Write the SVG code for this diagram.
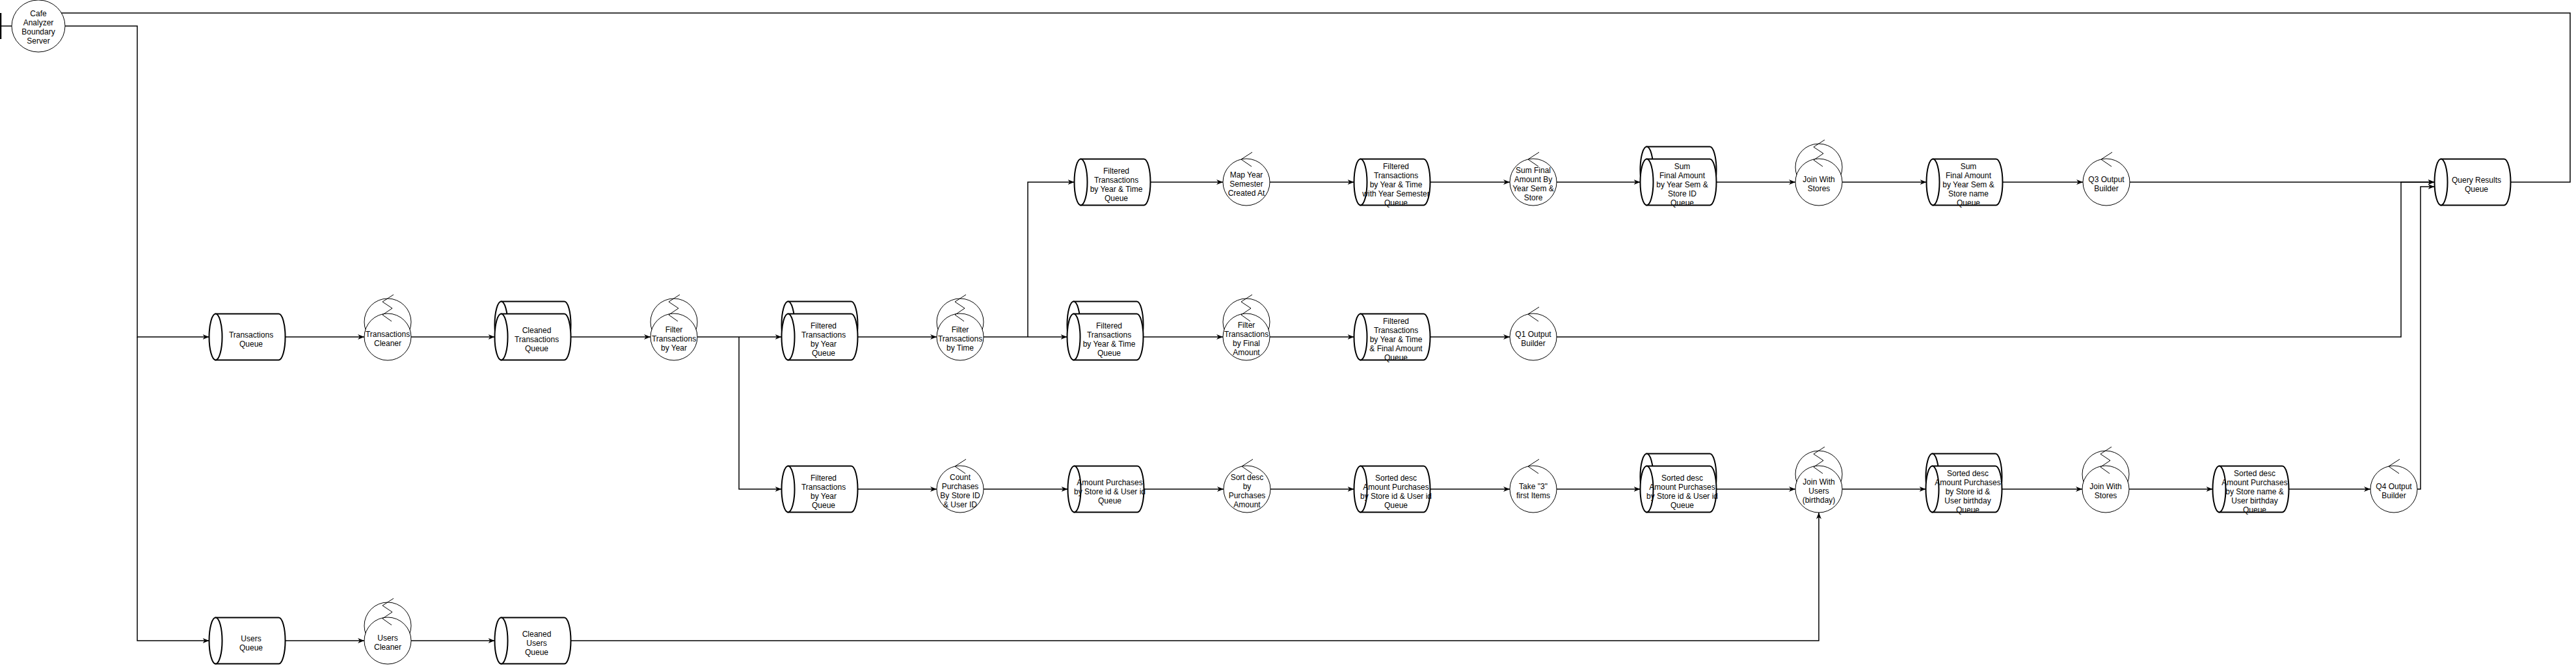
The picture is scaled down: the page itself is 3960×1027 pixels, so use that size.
<svg xmlns="http://www.w3.org/2000/svg" width="3960" height="1027" viewBox="0 0 3960 1027">
<style>
.bg{fill:#fff}
.s{fill:#fff;stroke:#000;stroke-width:2}
.w{fill:#fff;stroke:#000;stroke-width:1}
.z{fill:none;stroke:#000;stroke-width:1}
.c{fill:none;stroke:#000;stroke-width:1.5;marker-end:url(#arr)}
.l{fill:none;stroke:#000;stroke-width:1.5}
text{font-family:"Liberation Sans",Arial,sans-serif;font-size:12px;text-anchor:middle;fill:#000}
</style>
<defs>
<marker id="arr" viewBox="0 0 10 8" markerWidth="10" markerHeight="8" refX="10" refY="4" orient="auto" markerUnits="userSpaceOnUse">
<path d="M0,0 L10,4 L0,8 L3,4 Z" fill="#000"/>
</marker>
<g id="cyl">
<path class="s" d="M-48.5,-35.5 H48.5 A10,35.5 0 0 1 48.5,35.5 H-48.5 Z"/>
<ellipse class="s" cx="-48.5" cy="0" rx="10" ry="35.5"/>
</g>
<g id="cyl2">
<use href="#cyl" y="-19"/>
<use href="#cyl"/>
</g>
<g id="ctl">
<circle class="w" cx="0" cy="0" r="36"/>
<polyline class="z" points="9,-46 -8,-35 8,-24"/>
</g>
<g id="ctl2">
<circle class="w" cx="0" cy="-23" r="36"/>
<circle class="w" cx="0" cy="0" r="36"/>
<polyline class="z" points="9,-65 -8,-54 7,-44 -8,-34 6,-24"/>
</g>
</defs>
<rect class="bg" x="0" y="0" width="3960" height="1027"/>

<g id="connectors">
<path class="l" d="M0,40 H19"/>
<path d="M1,20 V60" stroke="#000" stroke-width="2.5" fill="none"/>
<path class="c" d="M100,40 H211 V518 H321.5"/>
<path class="c" d="M211,518 V985 H321.5"/>
<path class="c" d="M438.5,518 H560"/>
<path class="c" d="M632,518 H760.5"/>
<path class="c" d="M877.5,518 H1000"/>
<path class="c" d="M1072,518 H1201.5"/>
<path class="c" d="M1136,518 V752 H1201.5"/>
<path class="c" d="M1318.5,518 H1440"/>
<path class="c" d="M1512,518 H1640.5"/>
<path class="c" d="M1580,518 V280 H1651.5"/>
<path class="c" d="M1757.5,518 H1880"/>
<path class="c" d="M1952,518 H2081.5"/>
<path class="c" d="M2198.5,518 H2321"/>
<path class="c" d="M2393,518 H3691 V280 H3742.5"/>
<path class="c" d="M1768.5,280 H1880"/>
<path class="c" d="M1952,280 H2081.5"/>
<path class="c" d="M2198.5,280 H2321"/>
<path class="c" d="M2393,280 H2521.5"/>
<path class="c" d="M2638.5,280 H2760"/>
<path class="c" d="M2832,280 H2961.5"/>
<path class="c" d="M3078.5,280 H3202"/>
<path class="c" d="M3274,280 H3742.5"/>
<path class="c" d="M3859.5,280 H3951 V20 H82"/>
<path class="c" d="M1318.5,752 H1440"/>
<path class="c" d="M1512,752 H1641.5"/>
<path class="c" d="M1758.5,752 H1881"/>
<path class="c" d="M1953,752 H2081.5"/>
<path class="c" d="M2198.5,752 H2321"/>
<path class="c" d="M2393,752 H2521.5"/>
<path class="c" d="M2638.5,752 H2760"/>
<path class="c" d="M2832,752 H2960.5"/>
<path class="c" d="M3077.5,752 H3201"/>
<path class="c" d="M3273,752 H3401.5"/>
<path class="c" d="M3518.5,752 H3644"/>
<path class="c" d="M3716,752 H3721 V287 H3742.5"/>
<path class="c" d="M438.5,985 H560"/>
<path class="c" d="M632,985 H760.5"/>
<path class="c" d="M877.5,985 H2796 V788"/>
</g>

<g id="server">
<ellipse class="w" cx="59" cy="40" rx="41" ry="40"/>
<text x="59" y="25">Cafe<tspan x="59" dy="14">Analyzer</tspan><tspan x="59" dy="14">Boundary</tspan><tspan x="59" dy="14">Server</tspan></text>
</g>

<g id="n1"><use href="#cyl" x="380" y="518"/><text x="386" y="519">Transactions<tspan x="386" dy="14">Queue</tspan></text></g>
<g id="n2"><use href="#ctl2" x="596" y="518"/><text x="596" y="518">Transactions<tspan x="596" dy="14">Cleaner</tspan></text></g>
<g id="n3"><use href="#cyl2" x="819" y="518"/><text x="825" y="512">Cleaned<tspan x="825" dy="14">Transactions</tspan><tspan x="825" dy="14">Queue</tspan></text></g>
<g id="n4"><use href="#ctl2" x="1036" y="518"/><text x="1036" y="511">Filter<tspan x="1036" dy="14">Transactions</tspan><tspan x="1036" dy="14">by Year</tspan></text></g>
<g id="n5"><use href="#cyl2" x="1260" y="518"/><text x="1266" y="505">Filtered<tspan x="1266" dy="14">Transactions</tspan><tspan x="1266" dy="14">by Year</tspan><tspan x="1266" dy="14">Queue</tspan></text></g>
<g id="n6"><use href="#ctl2" x="1476" y="518"/><text x="1476" y="511">Filter<tspan x="1476" dy="14">Transactions</tspan><tspan x="1476" dy="14">by Time</tspan></text></g>
<g id="n7"><use href="#cyl2" x="1699" y="518"/><text x="1705" y="505">Filtered<tspan x="1705" dy="14">Transactions</tspan><tspan x="1705" dy="14">by Year &amp; Time</tspan><tspan x="1705" dy="14">Queue</tspan></text></g>
<g id="n8"><use href="#ctl2" x="1916" y="518"/><text x="1916" y="504">Filter<tspan x="1916" dy="14">Transactions</tspan><tspan x="1916" dy="14">by Final</tspan><tspan x="1916" dy="14">Amount</tspan></text></g>
<g id="n9"><use href="#cyl" x="2140" y="518"/><text x="2146" y="498">Filtered<tspan x="2146" dy="14">Transactions</tspan><tspan x="2146" dy="14">by Year &amp; Time</tspan><tspan x="2146" dy="14">&amp; Final Amount</tspan><tspan x="2146" dy="14">Queue</tspan></text></g>
<g id="n10"><use href="#ctl" x="2357" y="518"/><text x="2357" y="518">Q1 Output<tspan x="2357" dy="14">Builder</tspan></text></g>

<g id="n11"><use href="#cyl" x="1710" y="280"/><text x="1716" y="267">Filtered<tspan x="1716" dy="14">Transactions</tspan><tspan x="1716" dy="14">by Year &amp; Time</tspan><tspan x="1716" dy="14">Queue</tspan></text></g>
<g id="n12"><use href="#ctl" x="1916" y="280"/><text x="1916" y="273">Map Year<tspan x="1916" dy="14">Semester</tspan><tspan x="1916" dy="14">Created At</tspan></text></g>
<g id="n13"><use href="#cyl" x="2140" y="280"/><text x="2146" y="260">Filtered<tspan x="2146" dy="14">Transactions</tspan><tspan x="2146" dy="14">by Year &amp; Time</tspan><tspan x="2146" dy="14">with Year Semester</tspan><tspan x="2146" dy="14">Queue</tspan></text></g>
<g id="n14"><use href="#ctl" x="2357" y="280"/><text x="2357" y="266">Sum Final<tspan x="2357" dy="14">Amount By</tspan><tspan x="2357" dy="14">Year Sem &amp;</tspan><tspan x="2357" dy="14">Store</tspan></text></g>
<g id="n15"><use href="#cyl2" x="2580" y="280"/><text x="2586" y="260">Sum<tspan x="2586" dy="14">Final Amount</tspan><tspan x="2586" dy="14">by Year Sem &amp;</tspan><tspan x="2586" dy="14">Store ID</tspan><tspan x="2586" dy="14">Queue</tspan></text></g>
<g id="n16"><use href="#ctl2" x="2796" y="280"/><text x="2796" y="280">Join With<tspan x="2796" dy="14">Stores</tspan></text></g>
<g id="n17"><use href="#cyl" x="3020" y="280"/><text x="3026" y="260">Sum<tspan x="3026" dy="14">Final Amount</tspan><tspan x="3026" dy="14">by Year Sem &amp;</tspan><tspan x="3026" dy="14">Store name</tspan><tspan x="3026" dy="14">Queue</tspan></text></g>
<g id="n18"><use href="#ctl" x="3238" y="280"/><text x="3238" y="280">Q3 Output<tspan x="3238" dy="14">Builder</tspan></text></g>
<g id="n19"><use href="#cyl" x="3801" y="280"/><text x="3807" y="281">Query Results<tspan x="3807" dy="14">Queue</tspan></text></g>

<g id="n20"><use href="#cyl" x="1260" y="752"/><text x="1266" y="739">Filtered<tspan x="1266" dy="14">Transactions</tspan><tspan x="1266" dy="14">by Year</tspan><tspan x="1266" dy="14">Queue</tspan></text></g>
<g id="n21"><use href="#ctl" x="1476" y="752"/><text x="1476" y="738">Count<tspan x="1476" dy="14">Purchases</tspan><tspan x="1476" dy="14">By Store ID</tspan><tspan x="1476" dy="14">&amp; User ID</tspan></text></g>
<g id="n22"><use href="#cyl" x="1700" y="752"/><text x="1706" y="746">Amount Purchases<tspan x="1706" dy="14">by Store id &amp; User id</tspan><tspan x="1706" dy="14">Queue</tspan></text></g>
<g id="n23"><use href="#ctl" x="1917" y="752"/><text x="1917" y="738">Sort desc<tspan x="1917" dy="14">by</tspan><tspan x="1917" dy="14">Purchases</tspan><tspan x="1917" dy="14">Amount</tspan></text></g>
<g id="n24"><use href="#cyl" x="2140" y="752"/><text x="2146" y="739">Sorted desc<tspan x="2146" dy="14">Amount Purchases</tspan><tspan x="2146" dy="14">by Store id &amp; User id</tspan><tspan x="2146" dy="14">Queue</tspan></text></g>
<g id="n25"><use href="#ctl" x="2357" y="752"/><text x="2357" y="752">Take "3"<tspan x="2357" dy="14">first Items</tspan></text></g>
<g id="n26"><use href="#cyl2" x="2580" y="752"/><text x="2586" y="739">Sorted desc<tspan x="2586" dy="14">Amount Purchases</tspan><tspan x="2586" dy="14">by Store id &amp; User id</tspan><tspan x="2586" dy="14">Queue</tspan></text></g>
<g id="n27"><use href="#ctl2" x="2796" y="752"/><text x="2796" y="745">Join With<tspan x="2796" dy="14">Users</tspan><tspan x="2796" dy="14">(birthday)</tspan></text></g>
<g id="n28"><use href="#cyl2" x="3019" y="752"/><text x="3025" y="732">Sorted desc<tspan x="3025" dy="14">Amount Purchases</tspan><tspan x="3025" dy="14">by Store id &amp;</tspan><tspan x="3025" dy="14">User birthday</tspan><tspan x="3025" dy="14">Queue</tspan></text></g>
<g id="n29"><use href="#ctl2" x="3237" y="752"/><text x="3237" y="752">Join With<tspan x="3237" dy="14">Stores</tspan></text></g>
<g id="n30"><use href="#cyl" x="3460" y="752"/><text x="3466" y="732">Sorted desc<tspan x="3466" dy="14">Amount Purchases</tspan><tspan x="3466" dy="14">by Store name &amp;</tspan><tspan x="3466" dy="14">User birthday</tspan><tspan x="3466" dy="14">Queue</tspan></text></g>
<g id="n31"><use href="#ctl" x="3680" y="752"/><text x="3680" y="752">Q4 Output<tspan x="3680" dy="14">Builder</tspan></text></g>

<g id="n32"><use href="#cyl" x="380" y="985"/><text x="386" y="986">Users<tspan x="386" dy="14">Queue</tspan></text></g>
<g id="n33"><use href="#ctl2" x="596" y="985"/><text x="596" y="985">Users<tspan x="596" dy="14">Cleaner</tspan></text></g>
<g id="n34"><use href="#cyl" x="819" y="985"/><text x="825" y="979">Cleaned<tspan x="825" dy="14">Users</tspan><tspan x="825" dy="14">Queue</tspan></text></g>
</svg>
